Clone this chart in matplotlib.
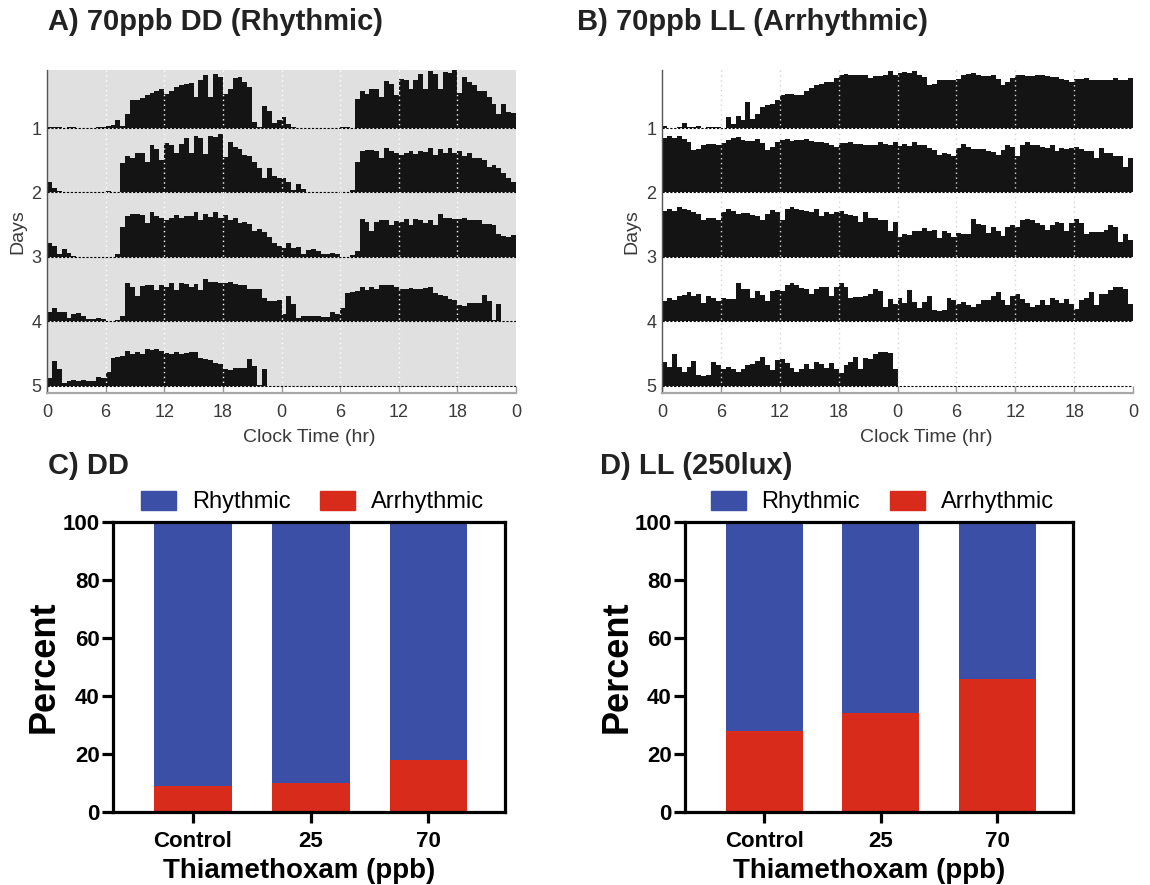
import matplotlib
matplotlib.use("Agg")
import matplotlib.pyplot as plt
import numpy as np
from matplotlib.patches import Patch

plt.rcParams["font.family"] = ["Liberation Sans", "DejaVu Sans"]

# --- actogram data: activity per 30-min bin, as fraction of row height ---
BIN_HR = 0.5
HOUR_TICKS = [0, 6, 12, 18, 24, 30, 36, 42, 48]
HOUR_LABELS = ["0", "6", "12", "18", "0", "6", "12", "18", "0"]
DAY_LABELS = ["1", "2", "3", "4", "5"]

DD_DAY1 = [0.02, 0.01, 0.01, 0.0, 0.015, 0.01, 0.0, 0.0, 0.0, 0.0, 0.015, 0.01,
           0.03, 0.05, 0.12, 0.03, 0.22, 0.43, 0.44, 0.46, 0.51, 0.54, 0.58, 0.60,
           0.53, 0.58, 0.64, 0.67, 0.69, 0.70, 0.48, 0.74, 0.82, 0.48, 0.84, 0.79,
           0.53, 0.61, 0.78, 0.79, 0.71, 0.64, 0.09, 0.02, 0.34, 0.26, 0.08, 0.12]
DD_DAY2 = [0.17, 0.07, 0.02, 0.0, 0.0, 0.0, 0.0, 0.0, 0.0, 0.0, 0.0, 0.0,
           0.02, 0.01, 0.0, 0.45, 0.57, 0.53, 0.61, 0.61, 0.48, 0.73, 0.68, 0.51,
           0.76, 0.74, 0.61, 0.75, 0.84, 0.61, 0.88, 0.84, 0.60, 0.87, 0.86, 0.91,
           0.55, 0.79, 0.71, 0.67, 0.58, 0.57, 0.48, 0.38, 0.22, 0.38, 0.25, 0.23]
DD_DAY3 = [0.22, 0.17, 0.04, 0.13, 0.06, 0.015, 0.0, 0.0, 0.0, 0.0, 0.0, 0.0,
           0.0, 0.0, 0.04, 0.47, 0.64, 0.66, 0.66, 0.65, 0.53, 0.69, 0.64, 0.61,
           0.58, 0.61, 0.65, 0.60, 0.64, 0.63, 0.69, 0.58, 0.67, 0.62, 0.69, 0.61,
           0.65, 0.57, 0.61, 0.53, 0.54, 0.51, 0.40, 0.43, 0.38, 0.31, 0.22, 0.17]
DD_DAY4 = [0.14, 0.21, 0.14, 0.15, 0.05, 0.11, 0.13, 0.09, 0.04, 0.04, 0.06, 0.04,
           0.0, 0.0, 0.03, 0.09, 0.59, 0.54, 0.40, 0.55, 0.57, 0.57, 0.49, 0.56,
           0.54, 0.59, 0.49, 0.59, 0.58, 0.53, 0.58, 0.49, 0.66, 0.61, 0.61, 0.59,
           0.59, 0.61, 0.58, 0.57, 0.57, 0.51, 0.51, 0.50, 0.36, 0.32, 0.31, 0.34]
DD_DAY5 = [0.12, 0.39, 0.27, 0.05, 0.08, 0.09, 0.08, 0.09, 0.07, 0.07, 0.14, 0.12,
           0.21, 0.44, 0.45, 0.47, 0.54, 0.49, 0.53, 0.50, 0.57, 0.56, 0.57, 0.54,
           0.51, 0.50, 0.52, 0.50, 0.51, 0.52, 0.53, 0.44, 0.41, 0.40, 0.35, 0.34,
           0.26, 0.24, 0.28, 0.28, 0.28, 0.41, 0.31, 0.02, 0.27]

LL_DAY1 = [0.03, 0.005, 0.005, 0.015, 0.08, 0.01, 0.01, 0.025, 0.005, 0.01, 0.01, 0.015,
           0.005, 0.17, 0.07, 0.18, 0.12, 0.41, 0.14, 0.22, 0.33, 0.35, 0.37, 0.43,
           0.51, 0.53, 0.52, 0.51, 0.51, 0.58, 0.62, 0.67, 0.69, 0.72, 0.72, 0.78,
           0.82, 0.84, 0.83, 0.83, 0.82, 0.82, 0.78, 0.81, 0.80, 0.82, 0.89, 0.83]
LL_DAY2 = [0.85, 0.87, 0.85, 0.88, 0.83, 0.79, 0.66, 0.68, 0.74, 0.75, 0.75, 0.74,
           0.76, 0.82, 0.84, 0.86, 0.82, 0.80, 0.80, 0.83, 0.76, 0.66, 0.71, 0.78,
           0.82, 0.83, 0.80, 0.81, 0.82, 0.83, 0.80, 0.79, 0.79, 0.76, 0.74, 0.71,
           0.76, 0.76, 0.78, 0.75, 0.75, 0.74, 0.74, 0.74, 0.78, 0.75, 0.74, 0.78]
LL_DAY3 = [0.72, 0.75, 0.72, 0.78, 0.74, 0.73, 0.69, 0.66, 0.58, 0.61, 0.60, 0.57,
           0.69, 0.75, 0.71, 0.67, 0.68, 0.68, 0.65, 0.63, 0.58, 0.66, 0.73, 0.70,
           0.57, 0.74, 0.78, 0.74, 0.73, 0.71, 0.69, 0.74, 0.64, 0.69, 0.67, 0.69,
           0.71, 0.67, 0.65, 0.64, 0.54, 0.69, 0.61, 0.61, 0.57, 0.57, 0.40, 0.54]
LL_DAY4 = [0.31, 0.36, 0.34, 0.40, 0.41, 0.45, 0.40, 0.42, 0.29, 0.40, 0.37, 0.31,
           0.37, 0.35, 0.35, 0.59, 0.51, 0.50, 0.37, 0.47, 0.41, 0.32, 0.47, 0.49,
           0.47, 0.57, 0.59, 0.57, 0.52, 0.50, 0.42, 0.50, 0.54, 0.53, 0.40, 0.53,
           0.59, 0.53, 0.36, 0.38, 0.38, 0.39, 0.42, 0.50, 0.47, 0.23, 0.35, 0.27]
LL_DAY5 = [0.37, 0.29, 0.49, 0.30, 0.21, 0.30, 0.39, 0.17, 0.16, 0.17, 0.37, 0.33,
           0.27, 0.30, 0.26, 0.22, 0.27, 0.33, 0.34, 0.39, 0.45, 0.33, 0.25, 0.40,
           0.42, 0.35, 0.28, 0.22, 0.26, 0.34, 0.26, 0.37, 0.34, 0.28, 0.35, 0.27,
           0.20, 0.33, 0.37, 0.45, 0.26, 0.43, 0.42, 0.49, 0.53, 0.53, 0.51, 0.27]

# --- rhythmicity data (percent of flies) ---
GROUPS = ["Control", "25", "70"]
DD_RHYTHMIC = [91, 90, 82]
DD_ARRHYTHMIC = [9, 10, 18]
LL_RHYTHMIC = [72, 66, 54]
LL_ARRHYTHMIC = [28, 34, 46]

BLUE = "#3b4fa7"
RED = "#d92b1c"
BAR_BLACK = "#141414"
TXT_GRAY = "#3a3a3a"
Y_TOP, Y_BOT = 0.10, 5.11


def draw_actogram(ax, days, bg, grid_color):
    n_rows = len(days)
    if bg:
        ax.axhspan(Y_TOP, n_rows + 0.02, color=bg, lw=0, zorder=0)
    for r in range(n_rows):
        # double plot: day r on the left, day r+1 on the right
        vals = list(days[r]) + (list(days[r + 1]) if r + 1 < n_rows else [])
        h = np.array(vals)
        edges = np.arange(len(h) + 1) * BIN_HR
        base = r + 1
        ax.stairs(base - h, edges, baseline=base, fill=True,
                  color=BAR_BLACK, lw=0, zorder=2)
        ax.hlines(base, 0, 48, colors="k", lw=0.8,
                  linestyles=(0, (2, 1.5)), zorder=2.5)
    ax.vlines(HOUR_TICKS[1:-1], Y_TOP, n_rows, colors=grid_color, lw=1,
              linestyles=(0, (1, 2.5)), zorder=3)

    ax.set_xlim(0, 48)
    ax.set_ylim(Y_BOT, Y_TOP)
    ax.set_xticks(HOUR_TICKS, HOUR_LABELS)
    ax.set_yticks(range(1, n_rows + 1), DAY_LABELS[:n_rows])
    for s in ("top", "right"):
        ax.spines[s].set_visible(False)
    ax.spines["left"].set_color("#555555")
    ax.spines["left"].set_linewidth(1.0)
    ax.spines["bottom"].set_color("#a8a8a8")
    ax.spines["bottom"].set_linewidth(1.6)
    ax.tick_params(axis="x", direction="in", length=5, width=1, color="#999999",
                   labelsize=13, labelcolor=TXT_GRAY, pad=8)
    ax.tick_params(axis="y", length=0, labelsize=13, labelcolor=TXT_GRAY, pad=4)
    ax.set_xlabel("Clock Time (hr)", fontsize=14, color=TXT_GRAY)
    ax.xaxis.set_label_coords(0.56, -0.112)
    ax.set_ylabel("Days", fontsize=14, color=TXT_GRAY)
    ax.yaxis.set_label_coords(-0.045, 0.5)


def draw_bars(ax, rhythmic, arrhythmic):
    x = np.arange(len(GROUPS))
    ax.bar(x, arrhythmic, width=0.66, color=RED, lw=0, zorder=2)
    ax.bar(x, rhythmic, bottom=arrhythmic, width=0.66, color=BLUE, lw=0, zorder=2)
    ax.set_xlim(-0.68, 2.65)
    ax.set_ylim(0, 100)
    ax.set_xticks(x, GROUPS, fontsize=16, fontweight="bold")
    ax.set_yticks(range(0, 101, 20), [str(v) for v in range(0, 101, 20)],
                  fontsize=16, fontweight="bold")
    for s in ax.spines.values():
        s.set_linewidth(2.3)
        s.set_color("black")
    ax.tick_params(axis="x", length=8, width=2.3, pad=6)
    ax.tick_params(axis="y", length=8, width=2.3, pad=1.5)
    ax.set_ylabel("Percent", fontsize=26, fontweight="bold")
    ax.yaxis.set_label_coords(-0.13, 0.5)
    ax.set_xlabel("Thiamethoxam (ppb)", fontsize=20, fontweight="bold")
    ax.xaxis.set_label_coords(0.475, -0.16)
    handles = [Patch(color=BLUE, label="Rhythmic"), Patch(color=RED, label="Arrhythmic")]
    ax.legend(handles=handles, loc="center", bbox_to_anchor=(0.509, 1.069), ncol=2,
              frameon=False, fontsize=17, handlelength=1.48, handleheight=0.85,
              handletextpad=0.68, columnspacing=1.27, borderaxespad=0)


fig = plt.figure(figsize=(11.5, 8.85), dpi=100)
W, H = 1150, 885


def px_axes(left, top, right, bottom):
    return fig.add_axes([left / W, 1 - bottom / H, (right - left) / W, (bottom - top) / H])


ax_a = px_axes(47, 70, 516, 393)
ax_b = px_axes(662, 70, 1133, 393)
ax_c = px_axes(113, 522, 505, 812)
ax_d = px_axes(685, 522, 1073, 812)

draw_actogram(ax_a, [DD_DAY1, DD_DAY2, DD_DAY3, DD_DAY4, DD_DAY5], "#e0e0e0", "white")
draw_actogram(ax_b, [LL_DAY1, LL_DAY2, LL_DAY3, LL_DAY4, LL_DAY5], None, "#d4d4d4")
draw_bars(ax_c, DD_RHYTHMIC, DD_ARRHYTHMIC)
draw_bars(ax_d, LL_RHYTHMIC, LL_ARRHYTHMIC)

title_kw = dict(fontsize=21, fontweight="bold", va="center", ha="left", color="#222222")
fig.text(48 / W, 1 - 22 / H, "A) 70ppb DD (Rhythmic)", **title_kw)
fig.text(577 / W, 1 - 22 / H, "B) 70ppb LL (Arrhythmic)", **title_kw)
fig.text(48 / W, 1 - 466 / H, "C) DD", **title_kw)
fig.text(600 / W, 1 - 466 / H, "D) LL (250lux)", **title_kw)

fig.savefig("out.png", dpi=100)
